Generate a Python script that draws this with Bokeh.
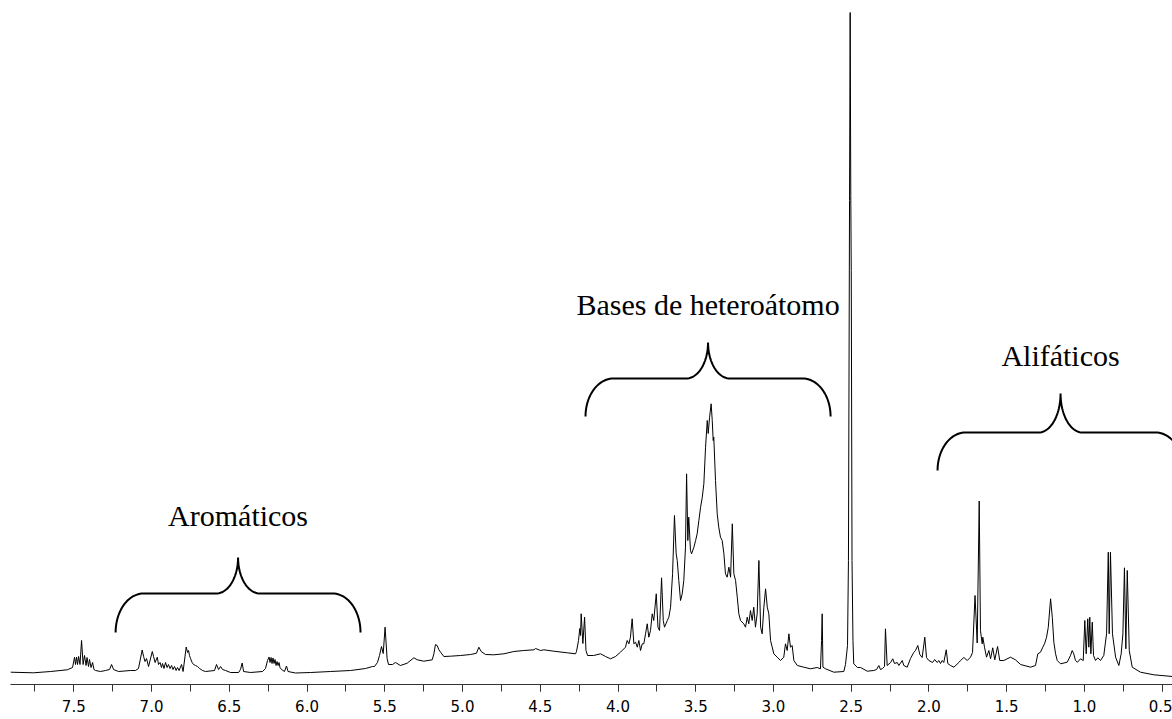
import numpy as np
from bokeh.plotting import figure
from bokeh.models import Range1d, SingleIntervalTicker, PrintfTickFormatter, Label
from bokeh.core.properties import value
from bokeh.embed import file_html
from bokeh.resources import INLINE

# ---- 1H NMR spectrum, chemical shift (ppm) and intensity (a.u.) ----
ppm = [
    7.907, 7.759, 7.649, 7.542, 7.508, 7.495, 7.489, 7.482, 7.476, 7.469, 7.460, 7.450, 7.440, 7.431,
    7.421, 7.415, 7.405, 7.399, 7.389, 7.379, 7.370, 7.360, 7.328, 7.296, 7.270, 7.257, 7.244, 7.212,
    7.135, 7.103, 7.084, 7.060, 7.051, 7.042, 7.032, 7.019, 6.995, 6.987, 6.977, 6.963, 6.955, 6.945,
    6.936, 6.929, 6.920, 6.910, 6.900, 6.891, 6.881, 6.871, 6.862, 6.852, 6.842, 6.833, 6.823, 6.807,
    6.797, 6.777, 6.768, 6.762, 6.756, 6.749, 6.739, 6.730, 6.717, 6.704, 6.691, 6.672, 6.653, 6.595,
    6.582, 6.569, 6.556, 6.543, 6.524, 6.492, 6.440, 6.428, 6.417, 6.408, 6.363, 6.286, 6.267, 6.254,
    6.244, 6.238, 6.231, 6.225, 6.219, 6.212, 6.206, 6.199, 6.193, 6.186, 6.180, 6.174, 6.164, 6.145,
    6.132, 6.122, 6.074, 5.977, 5.849, 5.720, 5.624, 5.579, 5.566, 5.547, 5.534, 5.521, 5.510, 5.498,
    5.485, 5.476, 5.450, 5.431, 5.399, 5.356, 5.313, 5.291, 5.249, 5.195, 5.184, 5.174, 5.163, 5.152,
    5.141, 5.120, 5.077, 5.013, 4.948, 4.910, 4.895, 4.880, 4.852, 4.799, 4.734, 4.670, 4.606, 4.541,
    4.530, 4.498, 4.477, 4.413, 4.327, 4.273, 4.267, 4.254, 4.246, 4.241, 4.237, 4.226, 4.215, 4.206,
    4.196, 4.157, 4.112, 4.080, 4.048, 4.016, 3.984, 3.952, 3.941, 3.930, 3.920, 3.909, 3.898, 3.887,
    3.876, 3.866, 3.855, 3.844, 3.834, 3.823, 3.812, 3.802, 3.791, 3.780, 3.770, 3.754, 3.743, 3.733,
    3.720, 3.709, 3.701, 3.683, 3.673, 3.662, 3.649, 3.637, 3.626, 3.619, 3.609, 3.598, 3.587, 3.577,
    3.566, 3.559, 3.551, 3.545, 3.534, 3.527, 3.512, 3.501, 3.491, 3.480, 3.469, 3.458, 3.448, 3.437,
    3.426, 3.420, 3.411, 3.401, 3.394, 3.388, 3.384, 3.373, 3.362, 3.352, 3.341, 3.330, 3.319, 3.309,
    3.298, 3.287, 3.276, 3.265, 3.255, 3.244, 3.233, 3.223, 3.212, 3.191, 3.180, 3.169, 3.159, 3.148,
    3.137, 3.127, 3.116, 3.105, 3.094, 3.083, 3.073, 3.062, 3.051, 3.040, 3.030, 3.019, 2.998, 2.976,
    2.955, 2.934, 2.923, 2.912, 2.901, 2.891, 2.880, 2.869, 2.847, 2.805, 2.762, 2.719, 2.698, 2.691,
    2.687, 2.682, 2.665, 2.612, 2.548, 2.537, 2.524, 2.518, 2.511, 2.507, 2.503, 2.500, 2.495, 2.489,
    2.484, 2.460, 2.440, 2.397, 2.355, 2.337, 2.323, 2.312, 2.299, 2.286, 2.280, 2.269, 2.247, 2.233,
    2.222, 2.204, 2.194, 2.172, 2.162, 2.140, 2.119, 2.098, 2.087, 2.072, 2.059, 2.044, 2.027, 2.016,
    2.001, 1.977, 1.964, 1.947, 1.937, 1.926, 1.915, 1.905, 1.889, 1.879, 1.862, 1.840, 1.808, 1.797,
    1.776, 1.754, 1.733, 1.720, 1.704, 1.690, 1.677, 1.669, 1.658, 1.654, 1.643, 1.630, 1.615, 1.604,
    1.590, 1.577, 1.559, 1.545, 1.519, 1.476, 1.444, 1.411, 1.347, 1.315, 1.300, 1.283, 1.268, 1.257,
    1.244, 1.233, 1.218, 1.207, 1.197, 1.186, 1.175, 1.154, 1.111, 1.090, 1.079, 1.069, 1.058, 1.045,
    1.026, 1.008, 0.998, 0.989, 0.979, 0.972, 0.966, 0.959, 0.950, 0.942, 0.929, 0.914, 0.897, 0.876,
    0.858, 0.847, 0.841, 0.833, 0.820, 0.800, 0.779, 0.764, 0.753, 0.743, 0.734, 0.725, 0.712, 0.693,
    0.640, 0.554, 0.434,
]
intensity = [
    12.3, 11.7, 13.0, 14.7, 17.0, 27.3, 20.0, 27.3, 20.0, 28.0, 20.0, 44.0, 20.0, 29.0,
    19.0, 27.0, 18.0, 25.0, 17.0, 22.0, 15.0, 14.0, 13.0, 14.0, 15.0, 20.0, 15.0, 13.0,
    14.0, 14.0, 16.0, 34.5, 28.0, 23.0, 26.0, 18.0, 33.0, 28.0, 22.0, 27.3, 20.0, 22.0,
    17.0, 21.0, 16.0, 22.0, 17.0, 20.0, 16.0, 19.0, 15.0, 18.0, 14.0, 17.0, 14.0, 20.0,
    13.0, 37.5, 32.0, 34.0, 29.0, 26.0, 22.0, 20.0, 19.0, 18.0, 16.0, 14.0, 13.0, 14.0,
    20.0, 15.0, 18.0, 15.0, 14.0, 12.0, 12.0, 15.0, 21.5, 13.0, 12.0, 13.0, 16.0, 24.0,
    27.5, 22.0, 27.0, 21.0, 26.5, 21.0, 25.0, 19.0, 23.0, 19.0, 22.0, 17.0, 15.0, 13.0,
    18.5, 13.0, 11.5, 12.0, 13.0, 14.0, 16.0, 18.0, 18.0, 22.0, 29.0, 38.0, 31.0, 57.3,
    26.0, 20.0, 20.0, 22.0, 19.0, 21.3, 26.7, 24.7, 23.3, 24.7, 30.7, 40.0, 39.0, 34.7,
    32.3, 28.0, 28.3, 29.0, 30.0, 31.3, 37.3, 33.0, 30.0, 29.7, 30.7, 33.0, 34.0, 34.7,
    36.0, 34.0, 34.7, 33.3, 31.7, 30.7, 33.0, 44.0, 56.0, 49.0, 70.7, 41.0, 67.3, 34.0,
    29.0, 29.0, 30.7, 28.0, 25.7, 28.0, 32.3, 37.3, 44.0, 40.7, 47.3, 65.7, 40.7, 42.3,
    37.3, 44.0, 34.0, 40.7, 40.7, 50.7, 60.7, 47.3, 54.0, 70.7, 64.0, 90.7, 57.3, 54.0,
    106.7, 64.0, 57.3, 64.0, 67.3, 77.3, 111.0, 169.0, 130.7, 124.0, 104.0, 84.0, 90.7, 104.0,
    137.3, 210.7, 144.0, 167.3, 134.0, 130.7, 137.3, 144.0, 150.7, 164.0, 177.3, 187.3, 200.7, 237.3,
    264.0, 251.0, 267.3, 280.7, 264.0, 244.0, 247.3, 204.0, 170.7, 157.3, 147.3, 144.0, 130.7, 110.7,
    107.3, 117.3, 107.3, 160.7, 110.7, 104.0, 87.3, 70.7, 64.0, 60.7, 57.3, 67.3, 60.7, 74.0,
    64.0, 77.3, 57.3, 70.7, 124.0, 57.3, 50.7, 77.3, 95.7, 77.3, 70.7, 44.0, 30.7, 27.3,
    24.0, 27.3, 40.7, 34.0, 50.7, 37.3, 39.0, 24.0, 19.0, 17.3, 15.7, 17.0, 15.7, 44.0,
    70.7, 17.3, 15.7, 12.3, 13.0, 20.0, 39.0, 124.0, 484.0, 672.0, 489.0, 414.0, 124.0, 44.0,
    20.7, 17.0, 17.0, 13.3, 14.0, 15.0, 19.0, 15.0, 16.0, 18.0, 55.7, 19.0, 22.0, 25.7,
    21.0, 22.0, 19.0, 24.0, 19.0, 17.3, 26.0, 32.0, 34.0, 39.0, 30.0, 27.0, 47.3, 27.0,
    24.0, 22.0, 25.0, 22.0, 24.0, 21.0, 24.0, 22.0, 34.7, 21.0, 19.0, 17.3, 22.0, 24.0,
    27.0, 24.0, 27.3, 32.0, 89.0, 41.5, 183.5, 54.0, 40.7, 47.3, 37.3, 27.3, 34.0, 25.7,
    36.7, 24.7, 38.0, 24.0, 24.0, 27.3, 24.7, 20.0, 17.3, 19.0, 30.7, 32.3, 37.3, 40.7,
    47.3, 57.0, 85.7, 67.0, 42.3, 30.7, 24.0, 20.7, 22.3, 29.0, 34.0, 30.7, 24.0, 22.3,
    25.7, 24.0, 64.0, 30.7, 65.7, 37.3, 67.3, 30.7, 62.3, 29.0, 24.0, 26.7, 24.0, 29.0,
    50.7, 132.3, 50.7, 132.3, 50.7, 27.3, 19.0, 30.7, 50.7, 116.7, 35.7, 114.0, 34.0, 17.3,
    12.3, 9.7, 8.0,
]

# ---- annotated regions (braces) ----
region_names = ["Aromáticos", "Bases de heteroátomo", "Alifáticos"]
brace_left = [7.231, 4.209, 1.945]     # ppm at left end of brace
brace_right = [5.656, 2.633, 0.363]    # ppm at right end of brace
brace_bottom = [52, 268, 214]          # intensity of the brace ends
brace_bar = [91, 306, 252]             # intensity of the horizontal bar
brace_tip = [127, 342, 291]            # intensity of the central tip
label_base = [169, 380, 329]           # intensity of the label baseline

x_start, x_end = 7.907, 0.434
y_top = 684

p = figure(width=1172, height=719, output_backend="svg", toolbar_location=None,
           x_range=Range1d(x_start, x_end), y_range=Range1d(0, y_top),
           y_axis_location=None, min_border_left=10, min_border_right=0,
           min_border_top=0, min_border_bottom=35)
p.outline_line_color = None
p.xgrid.visible = False
p.ygrid.visible = False
p.background_fill_color = "white"
p.border_fill_color = "white"

p.line(ppm, intensity, line_color="black", line_width=1)

# braces
corner_w = 0.18
tip_w = 0.141
th = np.linspace(0, np.pi / 2, 25)
for xl, xr, yb, yh, yt in zip(brace_left, brace_right, brace_bottom, brace_bar, brace_tip):
    xc = (xl + xr) / 2
    x1 = (xl - corner_w) + corner_w * np.cos(th)
    y1 = yb + (yh - yb) * np.sin(th)
    x2 = (xc + tip_w) - tip_w * np.sin(th)
    y2 = yt - (yt - yh) * np.cos(th)
    x3 = (xc - tip_w) + tip_w * np.sin(th[::-1])
    y3 = yt - (yt - yh) * np.cos(th[::-1])
    x4 = (xr + corner_w) - corner_w * np.cos(th[::-1])
    y4 = yb + (yh - yb) * np.sin(th[::-1])
    bx = np.concatenate([x1, x2, x3, x4])
    by = np.concatenate([y1, y2, y3, y4])
    p.line(bx, by, line_color="black", line_width=2)

centers = [(a + b) / 2 for a, b in zip(brace_left, brace_right)]
p.text(x=centers, y=label_base, text=region_names, text_font=value("Liberation Serif"),
       text_font_size="30px", text_align="center", text_baseline="alphabetic", text_color="black")

ax = p.xaxis[0]
ax.ticker = SingleIntervalTicker(interval=0.5, num_minor_ticks=2)
ax.formatter = PrintfTickFormatter(format="%.1f")
ax.major_tick_in = 0
ax.major_tick_out = 7
ax.minor_tick_in = 0
ax.minor_tick_out = 7
ax.axis_line_color = "#333333"
ax.major_tick_line_color = "#333333"
ax.minor_tick_line_color = "#333333"
ax.major_label_text_font = "DejaVu Sans"
ax.major_label_text_font_size = "15px"
ax.major_label_text_color = "black"
ax.major_label_standoff = 8

p.add_layout(Label(x=4.383, y=-28.5, text="f1 (ppm)", text_align="center", text_baseline="top",
                   text_font="DejaVu Sans", text_font_size="15px", text_color="black"))

open("out.html", "w").write(file_html(p, INLINE))
